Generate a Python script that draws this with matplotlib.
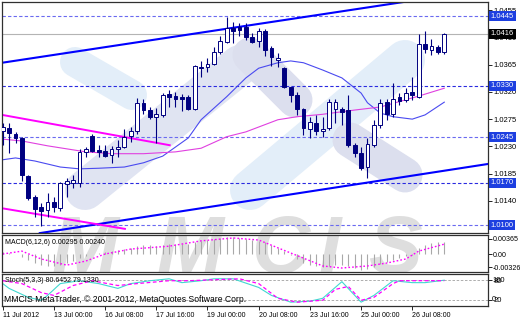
import matplotlib
matplotlib.use("Agg")
import matplotlib.pyplot as plt
from matplotlib.transforms import Affine2D, blended_transform_factory
import numpy as np

# H4 bars, first visible bar 11 Jul 2012 16:00
opens = [1.0255, 1.0260, 1.0250, 1.0244, 1.0181, 1.0147, 1.0130, 1.0125, 1.0138, 1.0128,
         1.0168, 1.0170, 1.0170, 1.0221, 1.0247, 1.0224, 1.0222, 1.0216, 1.0226, 1.0229,
         1.0247, 1.0255, 1.0302, 1.0290, 1.0279, 1.0282, 1.0316, 1.0313, 1.0312, 1.0312,
         1.0292, 1.0361, 1.0361, 1.0366, 1.0386, 1.0402, 1.0425, 1.0427, 1.0427, 1.0410,
         1.0404, 1.0420, 1.0392, 1.0373, 1.0359, 1.0328, 1.0315, 1.0292, 1.0259, 1.0269,
         1.0255, 1.0260, 1.0292, 1.0292, 1.0290, 1.0232, 1.0219, 1.0196, 1.0232, 1.0265,
         1.0303, 1.0283, 1.0312, 1.0307, 1.0320, 1.0312, 1.0399, 1.0389, 1.0394, 1.0386]
highs = [1.0269, 1.0269, 1.0254, 1.0246, 1.0183, 1.0150, 1.0137, 1.0153, 1.0147, 1.0171,
         1.0178, 1.0183, 1.0226, 1.0229, 1.0250, 1.0232, 1.0232, 1.0231, 1.0241, 1.0259,
         1.0262, 1.0310, 1.0308, 1.0295, 1.0293, 1.0318, 1.0323, 1.0320, 1.0316, 1.0315,
         1.0364, 1.0371, 1.0376, 1.0394, 1.0412, 1.0443, 1.0435, 1.0434, 1.0434, 1.0417,
         1.0425, 1.0424, 1.0396, 1.0384, 1.0361, 1.0328, 1.0320, 1.0293, 1.0279, 1.0282,
         1.0279, 1.0308, 1.0308, 1.0295, 1.0315, 1.0236, 1.0229, 1.0244, 1.0274, 1.0308,
         1.0308, 1.0335, 1.0318, 1.0326, 1.0345, 1.0415, 1.0420, 1.0407, 1.0397, 1.0417]
lows = [1.0232, 1.0219, 1.0236, 1.0173, 1.0142, 1.0114, 1.0099, 1.0114, 1.0122, 1.0123,
        1.0147, 1.0161, 1.0163, 1.0213, 1.0221, 1.0213, 1.0213, 1.0203, 1.0213, 1.0227,
        1.0237, 1.0250, 1.0283, 1.0275, 1.0236, 1.0279, 1.0295, 1.0295, 1.0288, 1.0290,
        1.0290, 1.0345, 1.0353, 1.0364, 1.0382, 1.0401, 1.0401, 1.0412, 1.0406, 1.0401,
        1.0394, 1.0379, 1.0363, 1.0361, 1.0326, 1.0303, 1.0282, 1.0249, 1.0244, 1.0249,
        1.0246, 1.0257, 1.0269, 1.0265, 1.0229, 1.0213, 1.0191, 1.0178, 1.0229, 1.0260,
        1.0274, 1.0279, 1.0298, 1.0303, 1.0307, 1.0310, 1.0384, 1.0381, 1.0382, 1.0382]
closes = [1.0262, 1.0252, 1.0244, 1.0183, 1.0145, 1.0127, 1.0123, 1.0138, 1.0130, 1.0170,
          1.0173, 1.0175, 1.0221, 1.0226, 1.0222, 1.0221, 1.0214, 1.0226, 1.0229, 1.0246,
          1.0255, 1.0302, 1.0290, 1.0279, 1.0283, 1.0315, 1.0312, 1.0308, 1.0308, 1.0292,
          1.0363, 1.0359, 1.0366, 1.0386, 1.0404, 1.0425, 1.0420, 1.0422, 1.0410, 1.0402,
          1.0420, 1.0389, 1.0377, 1.0376, 1.0328, 1.0315, 1.0292, 1.0260, 1.0270, 1.0255,
          1.0259, 1.0303, 1.0303, 1.0287, 1.0232, 1.0219, 1.0194, 1.0234, 1.0265, 1.0302,
          1.0283, 1.0308, 1.0305, 1.0318, 1.0315, 1.0399, 1.0391, 1.0396, 1.0386, 1.0416]

# moving averages, read at some bars
ma_blue_x = [0, 2, 5, 9, 12, 15, 19, 22, 25, 27, 29, 31, 35, 38, 40, 43, 45, 47, 50, 53, 56, 57, 59, 61, 64, 66, 69]
ma_blue = [1.0208, 1.0211, 1.0206, 1.0196, 1.0193, 1.0194, 1.0196, 1.0203, 1.0214, 1.0229, 1.0244, 1.0274, 1.0312,
           1.0343, 1.0359, 1.0368, 1.0371, 1.0368, 1.0356, 1.0343, 1.0318, 1.0302, 1.0285, 1.0279, 1.0275, 1.0282, 1.0303]
ma_pink_x = [0, 3, 7, 13, 17, 22, 27, 31, 35, 38, 40, 43, 46, 50, 55, 59, 63, 65, 69]
ma_pink = [1.0242, 1.0239, 1.0231, 1.0221, 1.0218, 1.0218, 1.0221, 1.0227, 1.0246, 1.0254, 1.0262, 1.0274, 1.0279,
           1.0283, 1.0290, 1.0295, 1.0307, 1.0313, 1.0326]

# trend lines (bar, price) pairs
chan_up = ([-0.1, 62.5], [1.0368, 1.0468])
chan_dn = ([5.8, 75.8], [1.0087, 1.0201])
pink_up = ([-0.1, 26.1], [1.0282, 1.0232])
pink_dn = ([-0.1, 19.1], [1.0128, 1.0094])

levels_dark = [1.0330, 1.0170]
levels_light = [1.0445, 1.0245, 1.0100]
last_price = 1.0416
price_ticks = [1.0455, 1.0410, 1.0365, 1.0320, 1.0275, 1.0230, 1.0185, 1.0140]

# MACD(6,12,6)
macd = [0.0005, 0.0002, 0.0, -0.0007, -0.0015, -0.0022, -0.0027, -0.0029, -0.0029, -0.0027,
        -0.0022, -0.0017, -0.0010, -0.0005, 0.0, 0.0002, 0.0005, 0.0007, 0.0010, 0.0012,
        0.0015, 0.0019, 0.0022, 0.0022, 0.0019, 0.0022, 0.0024, 0.0024, 0.0024, 0.0024,
        0.0029, 0.0032, 0.0034, 0.0036, 0.0039, 0.0041, 0.0041, 0.0039, 0.0036, 0.0034,
        0.0032, 0.0029, 0.0022, 0.0015, 0.0007, -0.0002, -0.0012, -0.0022, -0.0027, -0.0029,
        -0.0032, -0.0029, -0.0027, -0.0027, -0.0029, -0.0034, -0.0039, -0.0036, -0.0032, -0.0024,
        -0.0019, -0.0015, -0.0010, -0.0005, -0.0002, 0.0015, 0.0022, 0.0027, 0.0029, 0.00295]
sig_x = [0, 3, 6, 10, 13, 16, 20, 26, 31, 36, 40, 43, 47, 50, 53, 57, 60, 63, 65, 69]
sig = [0.0, 0.0007, -0.0012, -0.0027, -0.0017, 0.0, 0.0012, 0.0019, 0.0032, 0.0039, 0.0034, 0.0015,
       -0.0010, -0.0029, -0.0034, -0.0029, -0.0022, -0.0012, 0.0007, 0.0024]

# Stoch(5,3,3)
st_x = [0, 1, 4, 6, 7, 9, 12, 15, 18, 20, 23, 26, 28, 31, 33, 36, 40, 42, 45, 48, 50, 53, 56, 58, 61, 64, 66, 69]
st_main = [70, 55, 27, 18, 33, 70, 79, 70, 55, 70, 79, 85, 73, 79, 85, 85, 58, 33, 12, 15, 24, 76, 12, 33, 79, 73, 73, 80.6]
sts_x = [0, 3, 6, 8, 11, 14, 18, 21, 26, 29, 33, 37, 40, 43, 46, 50, 52, 54, 56, 58, 61, 62, 69]
st_sig = [79, 70, 42, 33, 64, 79, 64, 70, 79, 79, 82, 85, 70, 24, 12, 18, 52, 61, 18, 27, 70, 79, 79.1]

time_ticks = [0, 8, 16, 24, 32, 40, 48, 56, 64]
time_labels = ['11 Jul 2012', '13 Jul 00:00', '16 Jul 08:00', '17 Jul 16:00', '19 Jul 00:00',
               '20 Jul 08:00', '23 Jul 16:00', '25 Jul 00:00', '26 Jul 08:00']

plt.rcParams['font.family'] = ['Liberation Sans', 'DejaVu Sans']
W, H = 520, 320
fig = plt.figure(figsize=(5.2, 3.2), dpi=100)
fig.patch.set_facecolor('white')


def rect(x0, y0, x1, y1):
    return [x0 / W, 1 - y1 / H, (x1 - x0) / W, (y1 - y0) / H]


ax = fig.add_axes(rect(2, 2, 488, 233))
axm = fig.add_axes(rect(2, 235, 488, 272))
axs = fig.add_axes(rect(2, 274, 488, 306))
pix = Affine2D().scale(1 / 100., -1 / 100.).translate(0, 3.2) + fig.dpi_scale_trans

for a in (ax, axm, axs):
    a.set_facecolor('none')
    a.set_xlim(-0.11, 75.83)
    a.yaxis.tick_right()
    a.tick_params(axis='y', length=3, width=0.6, pad=1, labelsize=5.5, colors='black')
    for s in a.spines.values():
        s.set_color('#303030')
        s.set_linewidth(0.9)
ax.tick_params(axis='x', bottom=False, labelbottom=False)
axm.tick_params(axis='x', bottom=False, labelbottom=False)
axm.tick_params(axis='y', labelsize=5.1, pad=0.5)

# watermark logo
stripes = [((75, 62), (132, 95), 30, '#e3eef9'),
           ((85, 190), (240, 65), 40, '#e0e4f2'),
           ((250, 55), (295, 100), 35, '#dcdfee'),
           ((250, 190), (405, 60), 40, '#e3eef9'),
           ((350, 140), (405, 175), 35, '#dcdfee')]
for (p0, p1, w, c) in stripes:
    ax.plot([p0[0], p1[0]], [p0[1], p1[1]], transform=pix, lw=w * 0.72, color=c,
            solid_capstyle='round', zorder=0.5)
for ch, xc in zip("MMCIS", [85, 190, 280, 330, 395]):
    for a in (ax, axm):
        a.text(xc, 252, ch, transform=pix, fontsize=58, fontweight='bold', color='#dedede',
               ha='center', va='center', clip_on=True, zorder=0.4, style='italic')

x = np.arange(len(closes))
o = np.array(opens); c = np.array(closes)
ax.set_ylim(1.00872, 1.04682)

# levels
for lv in levels_dark:
    ax.axhline(lv, color='#2a2ae0', lw=0.8, ls=(0, (3, 2)), zorder=1)
for lv in levels_light:
    ax.axhline(lv, color='#6a6af0', lw=0.8, ls=(0, (3, 2)), zorder=1)
ax.axhline(last_price, color='#b4b4b4', lw=0.8, zorder=1)

ax.plot(ma_blue_x, ma_blue, color='#4a4af0', lw=0.8, zorder=2)
ax.plot(ma_pink_x, ma_pink, color='#e040e0', lw=0.8, zorder=2)
ax.plot(*chan_up, color='#0000ff', lw=1.5, zorder=2.5)
ax.plot(*chan_dn, color='#0000ff', lw=1.5, zorder=2.5)
ax.plot(*pink_up, color='#ff00ff', lw=1.4, zorder=2.5)
ax.plot(*pink_dn, color='#ff00ff', lw=1.4, zorder=2.5)

navy = '#000080'
ax.vlines(x, lows, highs, color=navy, lw=0.8, zorder=3)
up = c >= o
ax.bar(x, np.abs(c - o), bottom=np.minimum(o, c), width=0.62,
       color=np.where(up, 'white', navy), edgecolor=navy, lw=0.7, zorder=4)

ax.set_yticks(price_ticks)
ax.set_yticklabels(['%.4f' % p for p in price_ticks])
tr = blended_transform_factory(ax.transAxes, ax.transData)
for lv in levels_dark + levels_light:
    ax.text(1.006, lv, '%.4f' % lv, transform=tr, color='white', fontsize=5.5, va='center', ha='left',
            bbox=dict(boxstyle='square,pad=0.2', fc='#1d3fe0', ec='none'), clip_on=False, zorder=10)
ax.text(1.006, last_price, '%.4f' % last_price, transform=tr, color='white', fontsize=5.5, va='center',
        ha='left', bbox=dict(boxstyle='square,pad=0.2', fc='black', ec='none'), clip_on=False, zorder=11)

# MACD
axm.set_ylim(-0.00437, 0.00462)
axm.vlines(x, 0, macd, color='#a8a8a8', lw=0.8)
axm.plot(sig_x, sig, color='#ff00ff', lw=1.0, ls=(0, (1.2, 1.5)))
axm.set_yticks([0.00365, 0.0, -0.00326])
axm.set_yticklabels(['0.00365', '0.00', '-0.00326'])
fig.text(5 / W, 1 - 242 / H, 'MACD(6,12,6) 0.00295 0.00240', fontsize=5, va='center', ha='left')

# Stochastic
axs.set_ylim(0, 100)
axs.axhline(80, color='#a0a0a0', lw=0.6, ls=(0, (3, 2)))
axs.axhline(20, color='#a0a0a0', lw=0.6, ls=(0, (3, 2)))
axs.plot(st_x, st_main, color='#40d8d0', lw=0.8)
axs.plot(sts_x, st_sig, color='#ff00ff', lw=0.9, ls=(0, (3, 2)))
axs.set_yticks([80, 20])
axs.set_yticklabels(['80', '20'])
for yv, lab in [(80, '100'), (20, '0')]:
    axs.text(1.0 + 4 / 486, yv, lab, transform=blended_transform_factory(axs.transAxes, axs.transData),
             fontsize=5.5, va='center', ha='left', clip_on=False)
fig.text(5 / W, 1 - 281 / H, 'Stoch(5,3,3) 80.6452 79.1330', fontsize=5, va='center', ha='left')
fig.text(4 / W, 1 - 300 / H, 'MMCIS MetaTrader, \u00a9 2001-2012, MetaQuotes Software Corp.',
         fontsize=6.2, va='center', ha='left')

axs.set_xticks(time_ticks)
axs.set_xticklabels(time_labels)
axs.tick_params(axis='x', length=3, width=0.6, labelsize=5, pad=1)
for lab in axs.get_xticklabels():
    lab.set_ha('left')

fig.savefig('out.png', dpi=100, facecolor='white')
